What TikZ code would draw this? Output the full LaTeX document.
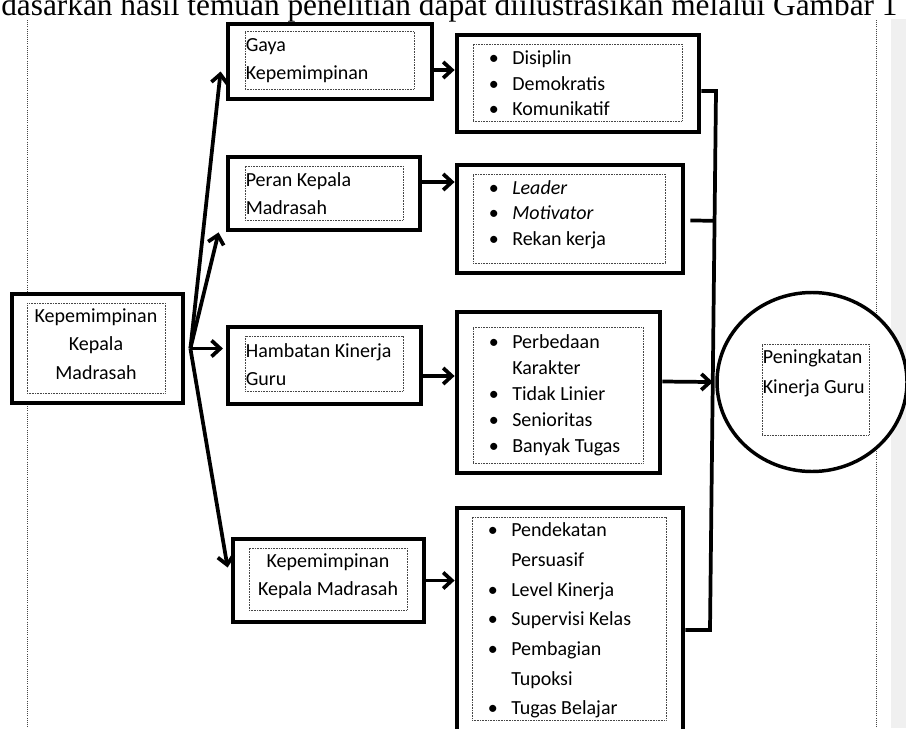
\documentclass[tikz,border=0pt]{standalone}
\usepackage{fontspec}
\setmainfont{Carlito}
\newfontfamily\serifteks{Liberation Serif}
\usetikzlibrary{arrows.meta, calc, fit, shapes.geometric}
\definecolor{pagegray}{RGB}{240, 240, 240}
\definecolor{dotline}{RGB}{70, 70, 70}
\newcommand{\bul}{\makebox[29.6pt][l]{\hspace{12pt}\textbullet}}
\newcommand{\lanjut}{\hspace*{29.6pt}}
\tikzset{
    kotak/.style={draw, line width=3.6pt, fill=white, inner sep=0pt},
    titik/.style={draw=dotline, line width=0.7pt, dash pattern=on 0.6pt off 0.6pt,
        inner sep=0pt},
    teks/.style={inner sep=0pt, align=left, font=\fontsize{15}{21}\selectfont},
    daftar/.style={inner sep=0pt, align=left, font=\fontsize{15}{19.2}\selectfont},
    panah/.style={line width=2.8pt, -{Straight Barb[length=6.5pt, width=12pt]}},
    garis/.style={line width=2.8pt},
    tepi/.style={dotline, line width=0.6pt, dash pattern=on 0.6pt off 1pt},
}

\begin{document}
\begin{tikzpicture}[x=0.75pt, y=-0.75pt]
    \useasboundingbox (0, 0) rectangle (906, 728);
    \clip (0, 0) rectangle (906, 728);
    % page around the figure
    \node[anchor=base west, inner sep=0pt, font=\serifteks\fontsize{23.5}{28}\selectfont]
        (judul) at (1, 15) {dasarkan hasil temuan penelitian dapat diilustrasikan melalui Gambar 1};
    \fill[pagegray] (891, 19) rectangle (906, 728);
    \draw[tepi] (27, 20) -- (27, 728);
    \draw[tepi] (876, 20) -- (876, 728);

    % left column
    \node[kotak, fit={(12, 294) (183, 403)}] (kepemimpinan) {};
    \node[titik, fit={(27, 303) (165, 393)}] (kepemimpinanIn) {};
    \node[teks, align=center, font=\fontsize{15}{21.4}\selectfont]
        at ($(kepemimpinanIn.center)+(0, -4)$) {Kepemimpinan\\Kepala\\Madrasah};

    \node[kotak, fit={(228, 24) (432, 99)}] (gaya) {};
    \node[titik, fit={(245, 31) (414, 89)}] (gayaIn) {};
    \node[teks, anchor=west] at ($(gayaIn.west)+(1, 1)$) {Gaya\\Kepemimpinan};

    \node[kotak, fit={(228, 157) (420, 230)}] (peran) {};
    \node[titik, fit={(245, 166) (403, 220)}] (peranIn) {};
    \node[teks, anchor=west] at ($(peranIn.west)+(1, 1)$) {Peran Kepala\\Madrasah};

    \node[kotak, fit={(228, 327) (421, 404)}] (hambatan) {};
    \node[titik, fit={(245, 336) (403, 391)}] (hambatanIn) {};
    \node[teks, anchor=west] at ($(hambatanIn.west)+(1, 1)$) {Hambatan Kinerja\\Guru};

    \node[kotak, fit={(233, 539) (424, 622)}] (kepsek) {};
    \node[titik, fit={(249, 548) (407, 610)}] (kepsekIn) {};
    \node[teks, align=center] at ($(kepsekIn.center)+(0, -3)$) {Kepemimpinan\\Kepala Madrasah};

    % right column
    \node[kotak, fit={(457, 35) (699, 132)}] (gayaisi) {};
    \node[titik, fit={(473, 44) (682, 121)}] (gayaisiIn) {};
    \node[daftar, anchor=west] at ($(gayaisiIn.west)+(0, 1)$)
        {\bul Disiplin\\\bul Demokratis\\\bul Komunikatif};

    \node[kotak, fit={(457, 165) (683, 273)}] (peranisi) {};
    \node[titik, fit={(473, 174) (665, 263)}] (peranisiIn) {};
    \node[daftar, anchor=west] at ($(peranisiIn.west)+(0, -4)$)
        {\bul\textit{Leader}\\\bul\textit{Motivator}\\\bul Rekan kerja};

    \node[kotak, fit={(457, 312) (660, 473)}] (hambatanisi) {};
    \node[titik, fit={(473, 327) (643, 463)}] (hambatanisiIn) {};
    \node[daftar, anchor=west, font=\fontsize{15}{19.5}\selectfont] at (hambatanisiIn.west)
        {\bul Perbedaan\\\lanjut Karakter\\\bul Tidak Linier\\\bul Senioritas\\\bul Banyak Tugas};

    \node[kotak, fit={(457, 508) (683, 745)}] (kepsekisi) {};
    \node[titik, fit={(472, 517) (666, 720)}] (kepsekisiIn) {};
    \node[daftar, anchor=west, font=\fontsize{15}{22.3}\selectfont] at ($(kepsekisiIn.west)+(0, 2)$)
        {\bul Pendekatan\\\lanjut Persuasif\\\bul Level Kinerja\\\bul Supervisi Kelas\\
         \bul Pembagian\\\lanjut Tupoksi\\\bul Tugas Belajar};

    % outcome
    \node[draw, ellipse, line width=2.6pt, fill=white, minimum width=142.5pt,
        minimum height=134.25pt] (kinerja) at (812, 382) {};
    \node[titik, fit={(762, 344) (869, 435)}] (kinerjaIn) {};
    \node[teks, anchor=north west, font=\fontsize{15}{22.5}\selectfont]
        at ($(kinerjaIn.north west)+(1, 6)$) {Peningkatan\\Kinerja Guru};

    % connectors
    \coordinate (pangkal) at ($(kepemimpinan.east)+(5, 0)$);
    \draw[panah] (pangkal) -- ($(gaya.west)+(-5, 10)$);
    \draw[panah] (pangkal) -- ($(peran.south west)+(-7, 0)$);
    \draw[panah, shorten >=2pt] (pangkal) -- (pangkal -| hambatan.west);
    \draw[panah] (pangkal) -- ($(kepsek.west)+(-3, -13)$);

    \draw[panah] ($(gaya.east)+(0, 8.5)$) -- ($(gaya.east -| gayaisi.west)+(0, 8.5)$);
    \draw[panah] ($(peran.east)+(0, -11.5)$) -- ($(peran.east -| peranisi.west)+(0, -11.5)$);
    \draw[panah] ($(hambatan.east)+(0, 10.5)$) -- ($(hambatan.east -| hambatanisi.west)+(0, 10.5)$);
    \draw[panah] (kepsek.east) -- (kepsek.east -| kepsekisi.west);

    \coordinate (busatas) at (716, 91);
    \coordinate (busbawah) at (710, 630);
    \coordinate (peranujung) at ($(peranisi.east)+(5, 1.5)$);
    \coordinate (hambatanujung) at ($(hambatanisi.east)+(0, -11)$);
    \draw[garis] (gayaisi.east |- busatas) -- (busatas) -- (busbawah)
        -- (kepsekisi.east |- busbawah);
    \draw[garis] (peranujung) -- ($(busatas)!(peranujung)!(busbawah)$);
    \draw[panah] (hambatanujung) -- ($(busatas)!(hambatanujung)!(busbawah)$);
\end{tikzpicture}
\end{document}
